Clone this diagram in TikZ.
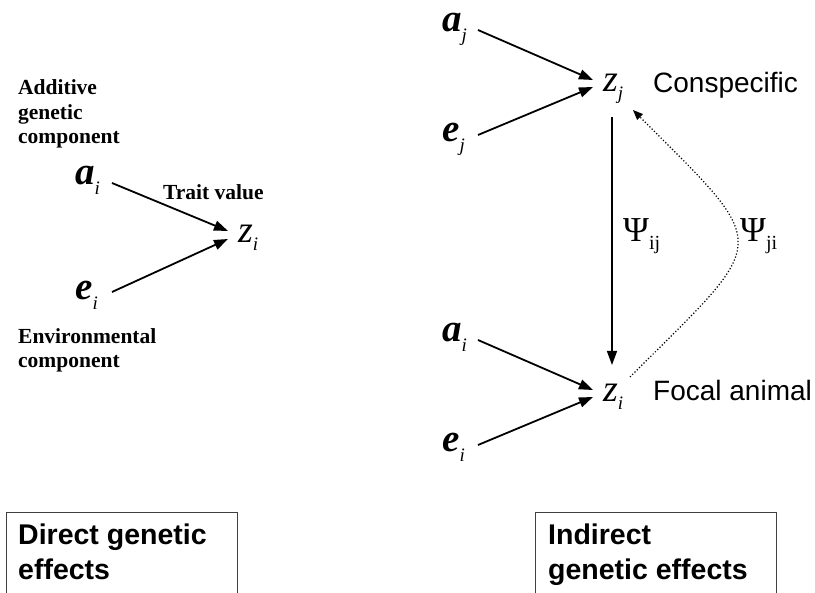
\documentclass[tikz,border=0pt]{standalone}
\usepackage{fontspec}
\setmainfont{Liberation Serif}
\newfontfamily\arialfont{Liberation Sans}
\usetikzlibrary{arrows.meta}

% variables: bold letter (a, e) and trait letter (z)
\newcommand\gvar[2]{{\fontsize{39}{39}\selectfont\bfseries\itshape #1}\raisebox{-10pt}{\fontsize{19}{19}\selectfont\itshape #2}}
\newcommand\tvar[2]{{\fontsize{38}{38}\selectfont\itshape #1}\raisebox{-8pt}{\fontsize{19}{19}\selectfont\itshape #2}}
\newcommand\psivar[1]{{\fontsize{35}{35}\selectfont Ψ}\raisebox{-8pt}{\fontsize{20}{20}\selectfont #1}}

\tikzset{
    var/.style={inner sep=0pt, anchor=base west},
    lab/.style={inner sep=0pt, anchor=base west, align=left, font=\fontsize{21.5}{24.5}\selectfont\bfseries},
    sanslab/.style={inner sep=0pt, anchor=base west, font=\arialfont\fontsize{28}{34}\selectfont},
    boxlab/.style={inner sep=0pt, anchor=base west, align=left, font=\arialfont\bfseries\fontsize{28.5}{35}\selectfont},
    effbox/.style={draw=black!75, line width=1.2pt, anchor=north west, minimum height=120pt},
    arr/.style={-{Triangle[length=14pt,width=10pt]}, line width=1.8pt},
    varr/.style={-{Triangle[length=14pt,width=10pt]}, line width=1.4pt},
    darr/.style={-{Triangle[length=10pt,width=8pt]}, line width=1.2pt, dotted}
}

\begin{document}
\begin{tikzpicture}[x=1pt, y=-1pt]
        \useasboundingbox (0, 0) rectangle (815, 593);
        \clip (0, 0) rectangle (815, 593);

        % direkte Effekte
        \node[lab] (addlab) at (18, 144) {Additive\\genetic\\component};
        \node[var] (ai) at (75, 185) {\gvar{a}{i}};
        \node[var] (ei) at (75, 300) {\gvar{e}{i}};
        \node[var] (zi) at (238, 243) {\tvar{z}{i}};
        \node[lab] (traitlab) at (163, 200) {Trait value};
        \node[lab] (envlab) at (18, 368) {Environmental\\component};
        \draw[arr] ([xshift=37pt, yshift=2pt]ai.base west) -- ([xshift=-10pt, yshift=12pt]zi.base west);
        \draw[arr] ([xshift=37pt, yshift=8pt]ei.base west) -- ([xshift=-10pt, yshift=4pt]zi.base west);

        % indirekte Effekte: Artgenosse
        \node[var] (aj) at (442, 32) {\gvar{a}{j}};
        \node[var] (ej) at (442, 142) {\gvar{e}{j}};
        \node[var] (zj) at (603, 92) {\tvar{z}{j}};
        \node[sanslab] (conlab) at (653, 93) {Conspecific};
        \draw[arr] ([xshift=36pt, yshift=2pt]aj.base west) -- ([xshift=-10pt, yshift=12pt]zj.base west);
        \draw[arr] ([xshift=36pt, yshift=7pt]ej.base west) -- ([xshift=-10pt, yshift=5pt]zj.base west);

        % indirekte Effekte: Fokustier
        \node[var] (af) at (442, 342) {\gvar{a}{i}};
        \node[var] (ef) at (442, 452) {\gvar{e}{i}};
        \node[var] (zf) at (603, 402) {\tvar{z}{i}};
        \node[sanslab] (foclab) at (653, 401) {Focal animal};
        \draw[arr] ([xshift=36pt, yshift=2pt]af.base west) -- ([xshift=-10pt, yshift=12pt]zf.base west);
        \draw[arr] ([xshift=36pt, yshift=7pt]ef.base west) -- ([xshift=-10pt, yshift=5pt]zf.base west);

        % Wechselwirkung
        \draw[varr] ([xshift=9pt, yshift=-25pt]zj.base west) -- ([xshift=9pt, yshift=37pt]zf.base west);
        \node[var] (psiij) at (623, 242) {\psivar{ij}};
        \draw[darr] ([xshift=27pt, yshift=25pt]zf.base west) .. controls +(141, -141) and +(141, 141) .. ([xshift=30pt, yshift=-18pt]zj.base west);
        \node[var] (psiji) at (740, 242) {\psivar{ji}};

        % Kaesten
        \node[effbox, minimum width=231pt] (dbox) at (6, 512) {};
        \node[boxlab] (dtext) at (18, 580) {Direct genetic\\effects};
        \node[effbox, minimum width=241pt] (ibox) at (535, 512) {};
        \node[boxlab] (itext) at (548, 580) {Indirect\\genetic effects};

    \end{tikzpicture}
\end{document}
